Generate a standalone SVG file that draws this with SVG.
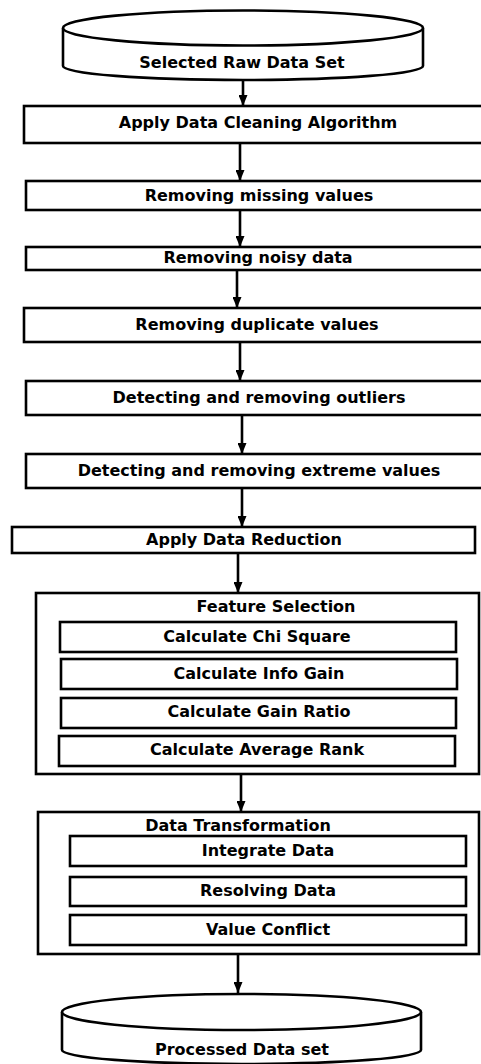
<svg xmlns="http://www.w3.org/2000/svg" width="481" height="1064" viewBox="0 0 481 1064">
<style>
.box{fill:#fff;stroke:#000;stroke-width:2.6}
.db{fill:#fff;stroke:#000;stroke-width:2.6}
.t{font-family:"DejaVu Sans",Verdana,sans-serif;font-weight:bold;font-size:16px;fill:#000;text-anchor:middle}
.c{stroke:#000;stroke-width:2.6;fill:none;marker-end:url(#ah)}
</style>
<defs>
<marker id="ah" markerUnits="userSpaceOnUse" markerWidth="11" markerHeight="9" refX="10" refY="5" orient="auto" viewBox="0 0 10 10" preserveAspectRatio="none">
<path d="M0,0 L10,5 L0,10 Z" fill="#000"/>
</marker>
</defs>
<rect width="481" height="1064" fill="#fff"/>
<g id="connectors">
<line class="c" x1="243" y1="80" x2="243" y2="106"/>
<line class="c" x1="240" y1="143" x2="240" y2="181"/>
<line class="c" x1="240" y1="210" x2="240" y2="247"/>
<line class="c" x1="237" y1="270" x2="237" y2="308"/>
<line class="c" x1="240" y1="342" x2="240" y2="381"/>
<line class="c" x1="242" y1="415" x2="242" y2="454"/>
<line class="c" x1="242" y1="488" x2="242" y2="527"/>
<line class="c" x1="238" y1="553" x2="238" y2="593"/>
<line class="c" x1="241" y1="774" x2="241" y2="812"/>
<line class="c" x1="238" y1="954" x2="238" y2="993"/>
</g>
<g id="raw">
<path class="db" d="M63,28 A180,17.5 0 0,1 423,28 L423,66 A180,14 0 0,1 63,66 Z"/>
<path class="db" d="M63,28 A180,17.5 0 0,0 423,28" fill="none"/>
<text class="t" x="242" y="68">Selected Raw Data Set</text>
</g>
<g id="clean">
<rect class="box" x="24" y="106" width="470" height="37"/>
<text class="t" x="258" y="128">Apply Data Cleaning Algorithm</text>
</g>
<g id="missing">
<rect class="box" x="26" y="181" width="470" height="29"/>
<text class="t" x="259" y="201">Removing missing values</text>
</g>
<g id="noisy">
<rect class="box" x="26" y="247" width="470" height="23"/>
<text class="t" x="258" y="263">Removing noisy data</text>
</g>
<g id="duplicate">
<rect class="box" x="24" y="308" width="470" height="34"/>
<text class="t" x="257" y="330">Removing duplicate values</text>
</g>
<g id="outliers">
<rect class="box" x="26" y="381" width="470" height="34"/>
<text class="t" x="259" y="403">Detecting and removing outliers</text>
</g>
<g id="extreme">
<rect class="box" x="26" y="454" width="470" height="34"/>
<text class="t" x="259" y="476">Detecting and removing extreme values</text>
</g>
<g id="reduction">
<rect class="box" x="12" y="527" width="463" height="26"/>
<text class="t" x="244" y="545">Apply Data Reduction</text>
</g>
<g id="feature">
<rect class="box" x="36" y="593" width="443" height="181"/>
<text class="t" x="276" y="612">Feature Selection</text>
</g>
<g id="chi">
<rect class="box" x="60" y="622" width="396" height="30"/>
<text class="t" x="257" y="642">Calculate Chi Square</text>
</g>
<g id="info">
<rect class="box" x="61" y="659" width="396" height="30"/>
<text class="t" x="259" y="679">Calculate Info Gain</text>
</g>
<g id="ratio">
<rect class="box" x="61" y="698" width="395" height="30"/>
<text class="t" x="259" y="717">Calculate Gain Ratio</text>
</g>
<g id="avg">
<rect class="box" x="59" y="736" width="396" height="30"/>
<text class="t" x="257" y="755">Calculate Average Rank</text>
</g>
<g id="transform">
<rect class="box" x="38" y="812" width="441" height="142"/>
<text class="t" x="238" y="831">Data Transformation</text>
</g>
<g id="integrate">
<rect class="box" x="70" y="836" width="396" height="30"/>
<text class="t" x="268" y="856">Integrate Data</text>
</g>
<g id="resolve">
<rect class="box" x="70" y="877" width="396" height="29"/>
<text class="t" x="268" y="896">Resolving Data</text>
</g>
<g id="conflict">
<rect class="box" x="70" y="915" width="396" height="30"/>
<text class="t" x="268" y="935">Value Conflict</text>
</g>
<g id="processed">
<path class="db" d="M62,1012 A179.5,18 0 0,1 421,1012 L421,1050 A179.5,14 0 0,1 62,1050 Z"/>
<path class="db" d="M62,1012 A179.5,18 0 0,0 421,1012" fill="none"/>
<text class="t" x="242" y="1055">Processed Data set</text>
</g>
</svg>
